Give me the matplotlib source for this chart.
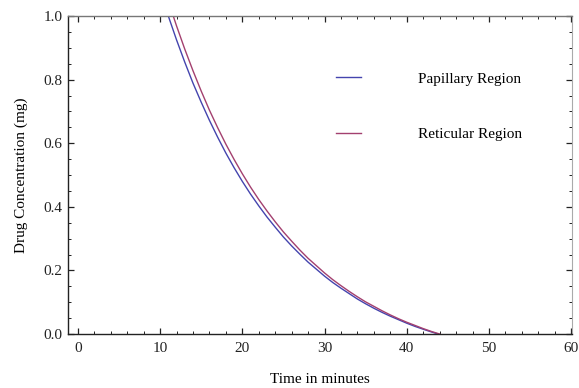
import matplotlib
matplotlib.use("Agg")
import matplotlib.pyplot as plt
from matplotlib.ticker import MultipleLocator

plt.rcParams['font.family'] = ['Liberation Serif', 'DejaVu Serif']

# Papillary region
t_pap = [11, 12, 13, 14, 15, 16, 17, 18, 19, 20, 21, 22, 23, 24, 25, 26, 27,
         28, 29, 30, 31, 32, 33, 34, 35, 36, 37, 38, 39, 40, 41, 42, 43, 43.8]
c_pap = [1.000, 0.925, 0.855, 0.789, 0.729, 0.672, 0.619, 0.569, 0.523, 0.480,
         0.440, 0.403, 0.368, 0.336, 0.305, 0.277, 0.251, 0.226, 0.204, 0.182,
         0.162, 0.144, 0.127, 0.110, 0.095, 0.081, 0.068, 0.056, 0.045, 0.034,
         0.024, 0.015, 0.0065, 0.0]

# Reticular region
t_ret = [11.6, 12, 13, 14, 15, 16, 17, 18, 19, 20, 21, 22, 23, 24, 25, 26, 27,
         28, 29, 30, 31, 32, 33, 34, 35, 36, 37, 38, 39, 40, 41, 42, 43, 44]
c_ret = [1.000, 0.969, 0.896, 0.828, 0.764, 0.704, 0.649, 0.597, 0.549, 0.504,
         0.462, 0.423, 0.387, 0.353, 0.321, 0.292, 0.264, 0.238, 0.215, 0.192,
         0.171, 0.152, 0.134, 0.117, 0.101, 0.087, 0.073, 0.060, 0.048, 0.037,
         0.027, 0.017, 0.008, 0.0]

labels = ["Papillary Region", "Reticular Region"]
colors = ["#4444ae", "#a3406f"]

fig = plt.figure(figsize=(5.79, 3.88), dpi=100)
ax = fig.add_axes([68/579, 54/388, 504/579, 318/388])

ax.plot(t_pap, c_pap, color=colors[0], lw=1.0, label=labels[0])
ax.plot(t_ret, c_ret, color=colors[1], lw=1.0, label=labels[1])

ax.set_xlim(-1.2, 60.1)
ax.set_ylim(0, 1.0)
ax.xaxis.set_major_locator(MultipleLocator(10))
ax.xaxis.set_minor_locator(MultipleLocator(2))
ax.yaxis.set_major_locator(MultipleLocator(0.2))
ax.yaxis.set_minor_locator(MultipleLocator(0.05))
ax.yaxis.set_major_formatter(matplotlib.ticker.FormatStrFormatter('%.1f'))

ax.tick_params(which='both', direction='in', top=True, right=True,
               labelsize=11, colors='#222222', pad=4)
ax.tick_params(axis='x', which='both', pad=6)
ax.tick_params(which='major', length=4.4, width=0.9)
ax.tick_params(which='minor', length=2.4, width=0.7)

for s in ['left', 'bottom']:
    ax.spines[s].set_color('#222222')
    ax.spines[s].set_linewidth(1.0)
ax.spines['top'].set_color('#777777')
ax.spines['right'].set_color('#aaaaaa')
ax.spines['top'].set_linewidth(1.0)
ax.spines['right'].set_linewidth(0.8)

ax.set_xlabel("Time in minutes", fontsize=11, labelpad=13)
ax.set_ylabel("Drug Concentration (mg)", fontsize=11, labelpad=11)

ax.legend(loc='upper left', bbox_to_anchor=(0.532, 0.824), frameon=False,
          fontsize=11, handlelength=1.65, handletextpad=3.7,
          labelspacing=2.73, borderpad=0, borderaxespad=0)

fig.savefig("out.png", dpi=100)
